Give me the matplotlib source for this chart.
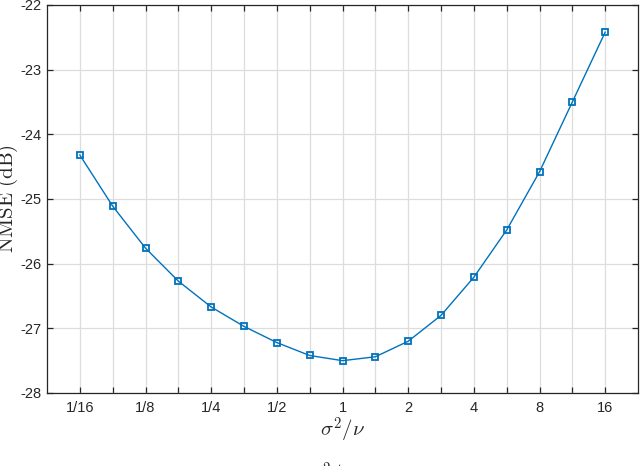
import numpy as np
import matplotlib
matplotlib.use("Agg")
import matplotlib.pyplot as plt

# x positions: half-octave steps from 1/16 to 16 (as log2 exponents)
log2_x = [-4, -3.5, -3, -2.5, -2, -1.5, -1, -0.5, 0, 0.5, 1, 1.5, 2, 2.5, 3, 3.5, 4]
nmse_db = [-24.32, -25.11, -25.76, -26.27, -26.67, -26.97, -27.22, -27.42, -27.50,
           -27.44, -27.20, -26.80, -26.21, -25.48, -24.58, -23.50, -22.42]
tick_labels = ["1/16", "", "1/8", "", "1/4", "", "1/2", "", "1", "", "2", "", "4", "", "8", "", "16"]
y_ticks = [-28, -27, -26, -25, -24, -23, -22]

plt.rcParams["mathtext.fontset"] = "cm"
plt.rcParams["font.family"] = ["Liberation Sans", "DejaVu Sans"]

x = 2.0 ** np.array(log2_x)

fig = plt.figure(figsize=(6.4, 4.66), dpi=100)
ax = fig.add_axes([47 / 640, 1 - 393 / 466, (638 - 47) / 640, (393 - 5) / 466])

ax.plot(x, nmse_db, "-s", color="#0072BD", lw=1.0, ms=4.5, mfc="none", mew=1.3)

ax.set_xscale("log", base=2)
ax.set_xlim(2 ** -4.5, 2 ** 4.5)
ax.set_ylim(-28, -22)
ax.set_xticks(x)
ax.set_xticklabels(tick_labels)
ax.minorticks_off()
ax.set_yticks(y_ticks)
ax.set_yticklabels([str(v) for v in y_ticks])

ax.grid(True, color="#dddddd", lw=0.9)
ax.set_axisbelow(True)
for s in ax.spines.values():
    s.set_color("#262626")
    s.set_linewidth(0.9)
ax.tick_params(direction="in", top=True, right=True, length=4, width=0.9,
               colors="#262626", labelsize=10.5)
ax.tick_params(axis="x", pad=6)
ax.tick_params(axis="y", pad=4)

ax.set_xlabel(r"$\sigma^2/\nu$", fontsize=15, labelpad=0, color="#262626")
ax.set_ylabel(r"$\mathrm{NMSE\ (dB)}$", fontsize=15, color="#262626")
ax.yaxis.set_label_coords(-0.046, 0.5)

# caption text cut off at bottom edge
fig.text(332 / 640, -0.02, r"$\sigma^2/\nu$", ha="center", va="center", fontsize=15, color="#262626")

fig.savefig("out.png", dpi=100)
